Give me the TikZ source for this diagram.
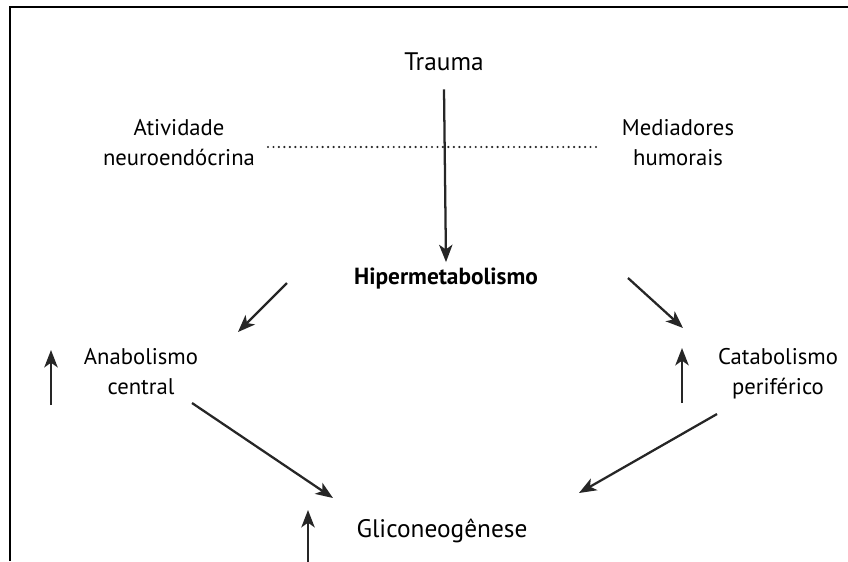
\documentclass[tikz,border=0pt]{standalone}
\usepackage{fontspec}
\setmainfont{PT Sans}
\usetikzlibrary{arrows.meta,calc}
\pgfdeclarelayer{background}
\pgfdeclarelayer{main}
\pgfsetlayers{background,main}

\tikzset{
  lbl/.style={font=\fontsize{17}{22.5}\selectfont, align=center, text=black, inner sep=0pt},
  big/.style={lbl, font=\fontsize{19}{22.5}\selectfont},
  arr/.style={line width=1.7pt, draw=black!85, -{Stealth[length=13pt,width=10pt,inset=3.5pt]}},
}

\begin{document}
\begin{tikzpicture}[x=0.75pt,y=-0.75pt]
\useasboundingbox (0,0) rectangle (848,561);

\begin{pgfonlayer}{background}
\draw [line width=2pt, draw=black] (10,561) -- (10,7) -- (848,7);
\end{pgfonlayer}

% texts
\node[big] (trauma) at (444,62) {Trauma};
\node[lbl] (ativ) at (179,143) {Atividade\\neuroendócrina};
\node[lbl] (medi) at (678,143) {Mediadores\\humorais};
\node[lbl, font=\fontsize{17.5}{22.5}\selectfont\bfseries] (hiper) at (446,279) {Hipermetabolismo};
\node[lbl] (anab) at (141,372) {Anabolismo\\central};
\node[lbl] (catab) at (778,374) {Catabolismo\\periférico};
\node[big] (glic) at (442,531) {Gliconeogênese};

% arrow ends
\coordinate (h-l) at (287,283);
\coordinate (a-in) at (238,332);
\coordinate (h-r) at (628,278);
\coordinate (c-in) at (683,328);
\coordinate (a-out) at (192,403);
\coordinate (g-l) at (333,498);
\coordinate (c-out) at (717,414);
\coordinate (g-r) at (579,493);

\draw [line width=1.8pt, line cap=round, dash pattern=on 0pt off 4.1pt, draw=black!85]
  (268,147) -- (597,147);

\draw [arr] ($(trauma.south)+(0,18)$) -- ($(hiper.north)+(0,-6)$);
\draw [arr] (h-l) -- (a-in);
\draw [arr] (h-r) -- (c-in);
\draw [arr] (a-out) -- (g-l);
\draw [arr] (c-out) -- (g-r);

% up arrows
\draw [arr] (51,405) -- (51,350);
\draw [arr] (682,403) -- (682,348);
\draw [arr] (308,566) -- (308,510);

\end{tikzpicture}
\end{document}
